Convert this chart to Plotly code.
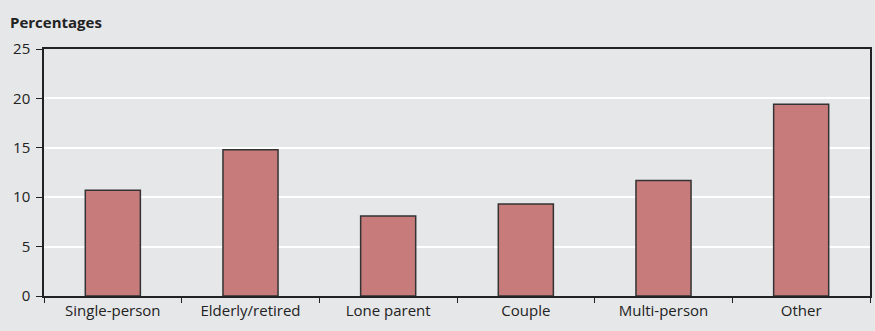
import plotly.graph_objects as go

categories = ["Single-person", "Elderly/retired", "Lone parent", "Couple", "Multi-person", "Other"]
values = [10.7, 14.8, 8.1, 9.3, 11.7, 19.4]
y_ticks = [0, 5, 10, 15, 20, 25]

fig = go.Figure(go.Bar(
    x=categories, y=values,
    marker=dict(color="#c77b7a", line=dict(color="#333333", width=1.5)),
    width=0.4,
))

font_family = "Open Sans, sans-serif"
fig.update_layout(
    width=875, height=331,
    margin=dict(l=44, r=3, t=49, b=35),
    paper_bgcolor="#e6e7e9", plot_bgcolor="#e6e7e9",
    font=dict(family=font_family, size=15, color="#222222"),
    showlegend=False,
)
fig.add_annotation(text="<b>Percentages</b>", xref="paper", yref="paper",
                   x=-36/828, y=1 + 27/247, xanchor="left", yanchor="middle",
                   showarrow=False, font=dict(size=15, family=font_family))
fig.update_xaxes(
    showline=True, linecolor="#222222", linewidth=1.5, mirror=True,
    ticks="outside", tickson="boundaries", ticklen=5, tickcolor="#222222",
    showgrid=False,
)
fig.update_yaxes(
    range=[0, 25], tickvals=y_ticks,
    showline=True, linecolor="#222222", linewidth=1.5, mirror=True,
    ticks="outside", ticklen=6, tickcolor="#222222", ticklabelstandoff=3,
    showgrid=True, gridcolor="#ffffff", gridwidth=1.5,
    zeroline=False,
)
fig.write_html("out.html")
